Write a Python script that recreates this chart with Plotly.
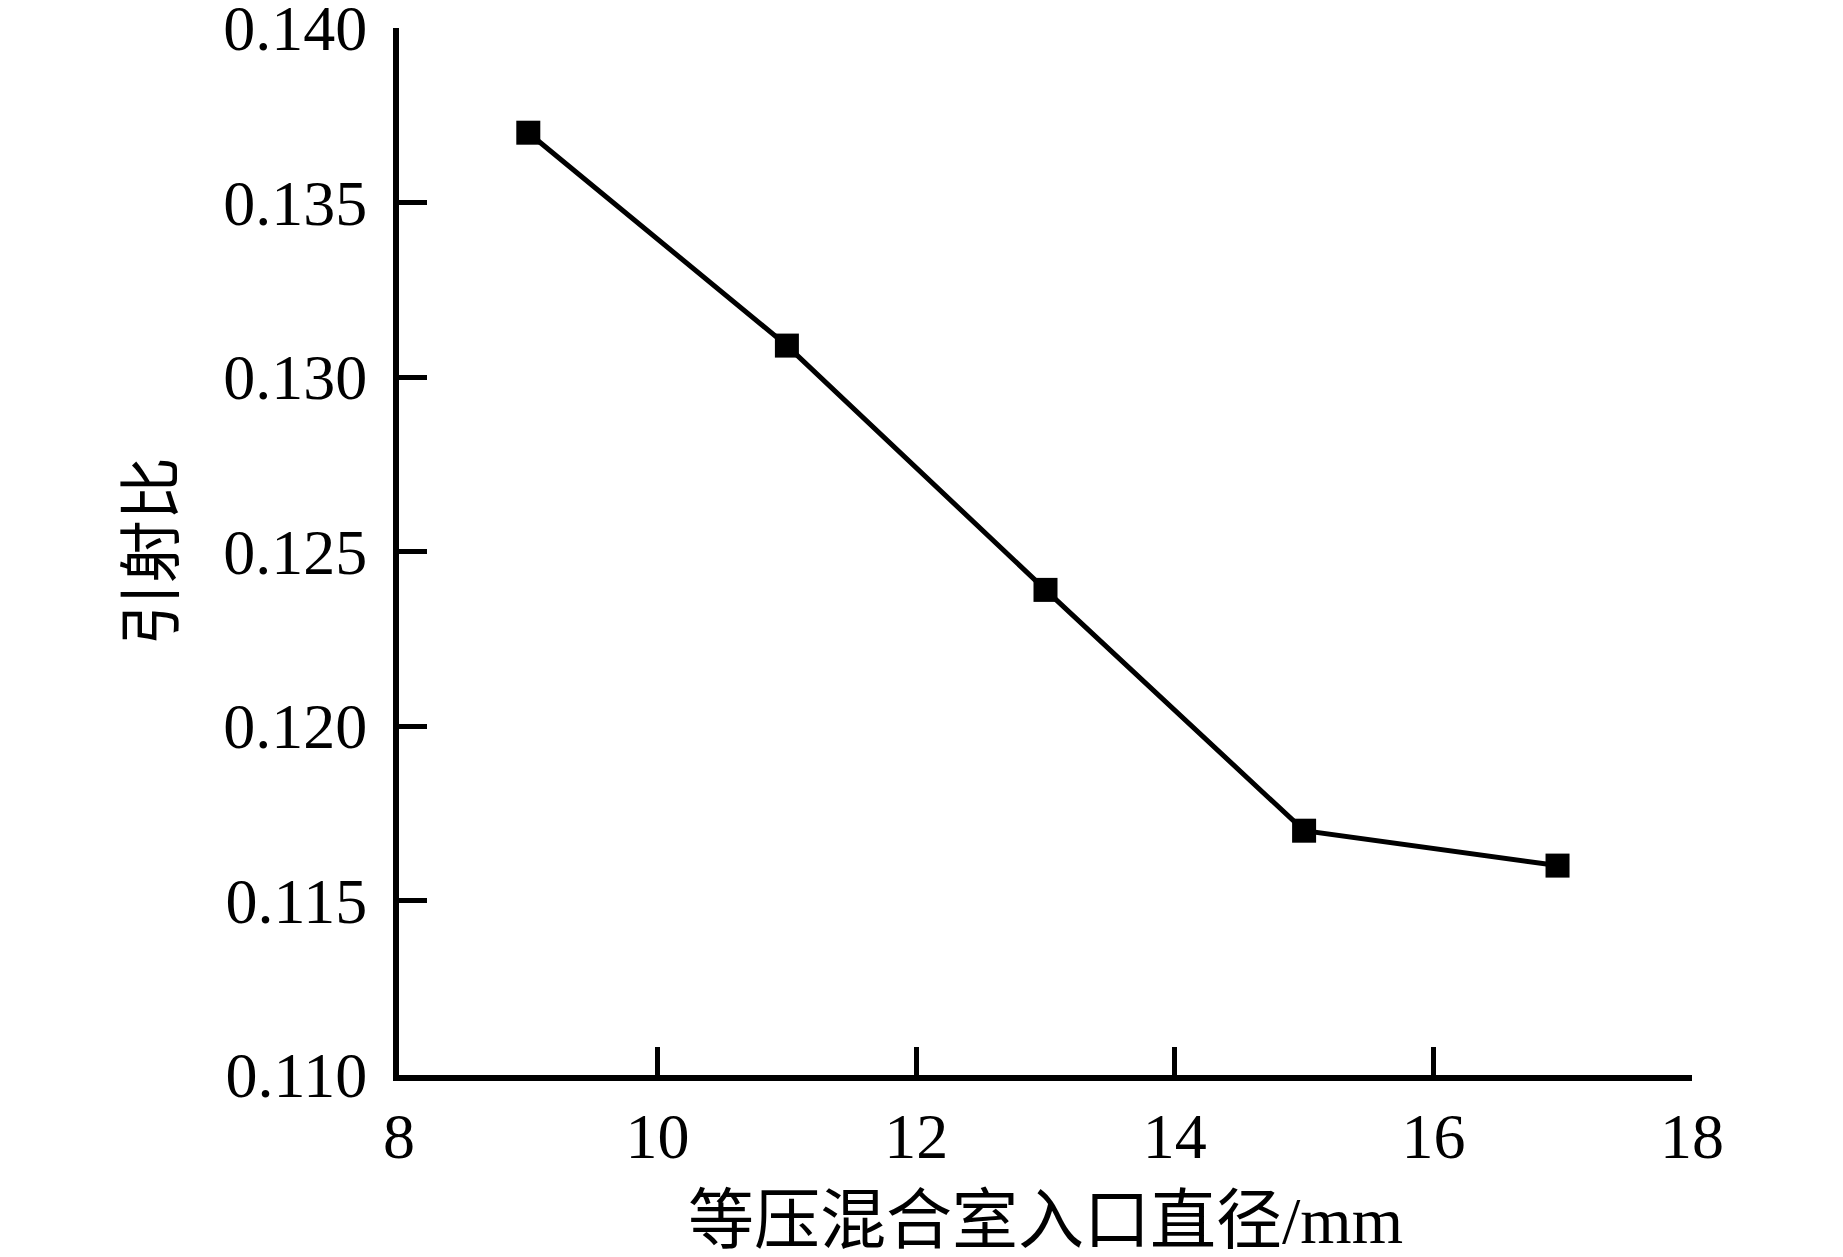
import plotly.graph_objects as go

diameter_mm = [9, 11, 13, 15, 16.96]
entrainment_ratio = [0.1370, 0.1309, 0.1239, 0.1170, 0.1160]

x_ticks = [8, 10, 12, 14, 16, 18]
y_ticks = [0.110, 0.115, 0.120, 0.125, 0.130, 0.135, 0.140]

x_title = "等压混合室入口直径/mm"
y_title = "引射比"

font_family = "Liberation Serif, Times New Roman, Noto Sans CJK SC, serif"

fig = go.Figure()
fig.add_trace(go.Scatter(
    x=diameter_mm, y=entrainment_ratio,
    mode="lines+markers",
    line=dict(color="black", width=5),
    marker=dict(symbol="square", size=24, color="black"),
    showlegend=False,
))

fig.update_layout(
    width=1835, height=1249,
    margin=dict(l=391, r=151, t=20, b=182, autoexpand=False),
    paper_bgcolor="white", plot_bgcolor="white",
    font=dict(family=font_family, color="black", size=64),
)

fig.update_xaxes(
    range=[8, 18], tickvals=x_ticks, ticktext=[str(v) for v in x_ticks],
    showgrid=False, zeroline=False,
    showline=True, linecolor="black", linewidth=6,
    ticks="inside", ticklen=28, tickwidth=4.5, tickcolor="black",
    tickfont=dict(size=64, family=font_family),
    ticklabeloverflow="allow",
    title=dict(text=x_title, font=dict(size=66, family=font_family), standoff=34),
    automargin=False,
)
fig.update_yaxes(
    range=[0.1099999, 0.1400001], tickvals=y_ticks, ticktext=[f"{v:.3f}" for v in y_ticks],
    showgrid=False, zeroline=False,
    showline=True, linecolor="black", linewidth=6,
    ticks="inside", ticklen=28, tickwidth=4.5, tickcolor="black",
    tickfont=dict(size=64, family=font_family),
    ticklabelstandoff=13,
    ticklabeloverflow="allow",
    title=dict(text=y_title, font=dict(size=63, family=font_family), standoff=31),
    automargin=False,
)

fig.write_html("out.html")
